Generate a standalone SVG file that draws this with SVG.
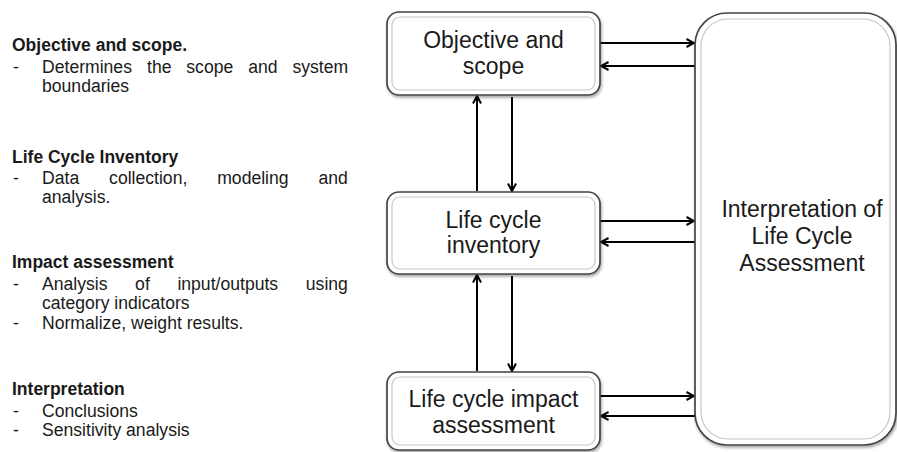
<svg xmlns="http://www.w3.org/2000/svg" width="897" height="452" viewBox="0 0 897 452">
<style>
.t{font-family:"Liberation Sans",Arial,sans-serif;font-size:17.6px;fill:#1a1a1a}
.h{font-weight:bold;font-size:17.5px}
.bx{font-family:"Liberation Sans",Arial,sans-serif;font-size:23px;fill:#1a1a1a;text-anchor:middle}
.outer{fill:#fff;stroke:#444;stroke-width:1.7}
.inner{fill:none;stroke:#c8c8c8;stroke-width:1.2}
.c{stroke:#000;stroke-width:2;fill:none;marker-end:url(#ah)}
</style>
<defs>
<marker id="ah" viewBox="0 0 10 10" refX="9" refY="5" markerWidth="10" markerHeight="10" markerUnits="userSpaceOnUse" orient="auto">
<path d="M1.5,1 L9,5 L1.5,9" fill="none" stroke="#000" stroke-width="2"/>
</marker>
<filter id="sh" x="-10%" y="-10%" width="130%" height="130%">
<feDropShadow dx="1" dy="2" stdDeviation="1.5" flood-color="#000" flood-opacity="0.35"/>
</filter>
</defs>
<rect width="897" height="452" fill="#fff"/>

<g id="legend">
<text class="t h" x="12" y="51">Objective and scope.</text>
<text class="t" x="13" y="73">-</text>
<text class="t" y="73"><tspan x="42">Determines</tspan><tspan x="147">the</tspan><tspan x="186.3">scope</tspan><tspan x="248.2">and</tspan><tspan x="292.4">system</tspan></text>
<text class="t" x="42" y="92">boundaries</text>

<text class="t h" x="12" y="163">Life Cycle Inventory</text>
<text class="t" x="13" y="184">-</text>
<text class="t" y="184"><tspan x="42">Data</tspan><tspan x="109.1">collection,</tspan><tspan x="217.2">modeling</tspan><tspan x="318.5">and</tspan></text>
<text class="t" x="42" y="203">analysis.</text>

<text class="t h" x="12" y="268">Impact assessment</text>
<text class="t" x="13" y="290">-</text>
<text class="t" y="290"><tspan x="42">Analysis</tspan><tspan x="135.1">of</tspan><tspan x="177.4">input/outputs</tspan><tspan x="305.8">using</tspan></text>
<text class="t" x="42" y="309">category indicators</text>
<text class="t" x="13" y="329">-</text>
<text class="t" x="42" y="329">Normalize, weight results.</text>

<text class="t h" x="12" y="395">Interpretation</text>
<text class="t" x="13" y="417">-</text>
<text class="t" x="42" y="417">Conclusions</text>
<text class="t" x="13" y="436">-</text>
<text class="t" x="42" y="436">Sensitivity analysis</text>
</g>

<g id="connectors">
<line class="c" x1="600" y1="43" x2="694" y2="43"/>
<line class="c" x1="695" y1="66" x2="601" y2="66"/>
<line class="c" x1="600" y1="221" x2="694" y2="221"/>
<line class="c" x1="695" y1="242" x2="601" y2="242"/>
<line class="c" x1="600" y1="396" x2="694" y2="396"/>
<line class="c" x1="695" y1="416" x2="601" y2="416"/>
<line class="c" x1="477" y1="191" x2="477" y2="96"/>
<line class="c" x1="512" y1="97" x2="512" y2="191"/>
<line class="c" x1="477" y1="371" x2="477" y2="275"/>
<line class="c" x1="512" y1="276" x2="512" y2="371"/>
</g>

<g id="objective">
<rect class="outer" x="387" y="12" width="213" height="83" rx="12" filter="url(#sh)"/>
<rect class="inner" x="392" y="17" width="203" height="73" rx="8"/>
<text class="bx" x="493.5" y="48">Objective and</text>
<text class="bx" x="493.5" y="74">scope</text>
</g>

<g id="inventory">
<rect class="outer" x="387" y="192" width="213" height="82" rx="12" filter="url(#sh)"/>
<rect class="inner" x="392" y="197" width="203" height="72" rx="8"/>
<text class="bx" x="493.5" y="228">Life cycle</text>
<text class="bx" x="493.5" y="253">inventory</text>
</g>

<g id="impact">
<rect class="outer" x="387" y="372" width="213" height="78" rx="12" filter="url(#sh)"/>
<rect class="inner" x="392" y="377" width="203" height="68" rx="8"/>
<text class="bx" x="493.5" y="407">Life cycle impact</text>
<text class="bx" x="493.5" y="433">assessment</text>
</g>

<g id="interpretation">
<rect class="outer" x="695" y="13" width="201" height="432" rx="32" filter="url(#sh)"/>
<rect class="inner" x="701" y="19" width="189" height="420" rx="27"/>
<text class="bx" x="802" y="217">Interpretation of</text>
<text class="bx" x="802" y="244">Life Cycle</text>
<text class="bx" x="802" y="271">Assessment</text>
</g>
</svg>
